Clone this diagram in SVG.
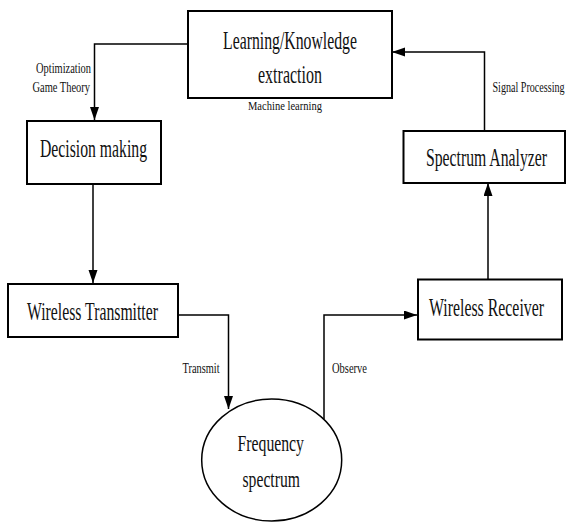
<svg xmlns="http://www.w3.org/2000/svg" width="567" height="523" viewBox="0 0 567 523">
<defs>
<marker id="arr" markerUnits="userSpaceOnUse" markerWidth="14" markerHeight="10" refX="13" refY="4.5" orient="auto">
<path d="M0,0 L13,4.5 L0,9 z" fill="#000"/>
</marker>
<style>
.box{fill:#fff;stroke:#000;stroke-width:2}
.big{font-family:"Liberation Serif",serif;font-size:25px;fill:#111}
.sm{font-family:"Liberation Serif",serif;font-size:14px;fill:#111}
.con{fill:none;stroke:#000;stroke-width:1.5;marker-end:url(#arr)}
</style>
</defs>
<rect width="567" height="523" fill="#fff"/>
<g id="connectors">
<path class="con" d="M188,44 H94.5 V120"/>
<path class="con" d="M93,184 V283"/>
<path class="con" d="M178,315 H228.5 V409"/>
<path class="con" d="M324,419 V315 H417"/>
<path class="con" d="M488,279 V183"/>
<path class="con" d="M484.5,131 V52 H392"/>
<text class="sm" transform="translate(36,73) scale(0.7,1)" textLength="78.6" lengthAdjust="spacingAndGlyphs" style="font-size:15px">Optimization</text>
<text class="sm" transform="translate(32.5,92) scale(0.7,1)" textLength="82.1" lengthAdjust="spacingAndGlyphs" style="font-size:15px">Game Theory</text>
<text class="sm" transform="translate(182.5,373) scale(0.7,1)" textLength="52.9" lengthAdjust="spacingAndGlyphs">Transmit</text>
<text class="sm" transform="translate(332,373) scale(0.7,1)" textLength="50" lengthAdjust="spacingAndGlyphs">Observe</text>
<text class="sm" transform="translate(492.5,92) scale(0.7,1)" textLength="102.9" lengthAdjust="spacingAndGlyphs">Signal Processing</text>
</g>
<g id="learning">
<rect class="box" x="188" y="11" width="204" height="87"/>
<text class="big" transform="translate(223,49) scale(0.7,1)" textLength="191.4" lengthAdjust="spacingAndGlyphs">Learning/Knowledge</text>
<text class="big" transform="translate(258,83) scale(0.7,1)" textLength="91.4" lengthAdjust="spacingAndGlyphs">extraction</text>
<text class="sm" transform="translate(248,110) scale(0.7,1)" textLength="105.7" lengthAdjust="spacingAndGlyphs" style="font-size:13px">Machine learning</text>
</g>
<g id="decision">
<rect class="box" x="27" y="121" width="134" height="63"/>
<text class="big" transform="translate(40,157) scale(0.7,1)" textLength="152.9" lengthAdjust="spacingAndGlyphs">Decision making</text>
</g>
<g id="transmitter">
<rect class="box" x="8" y="284" width="170" height="53"/>
<text class="big" transform="translate(27,320) scale(0.7,1)" textLength="187.1" lengthAdjust="spacingAndGlyphs">Wireless Transmitter</text>
</g>
<g id="spectrum">
<ellipse cx="271.7" cy="460" rx="70" ry="61" fill="#fff" stroke="#000" stroke-width="1.5"/>
<text class="big" transform="translate(237.5,451) scale(0.7,1)" textLength="95" lengthAdjust="spacingAndGlyphs" style="font-size:24px">Frequency</text>
<text class="big" transform="translate(242.5,487) scale(0.7,1)" textLength="82.1" lengthAdjust="spacingAndGlyphs" style="font-size:24px">spectrum</text>
</g>
<g id="receiver">
<rect class="box" x="418" y="279.5" width="144" height="60"/>
<text class="big" transform="translate(429,316) scale(0.7,1)" textLength="164.3" lengthAdjust="spacingAndGlyphs">Wireless Receiver</text>
</g>
<g id="analyzer">
<rect class="box" x="403.5" y="131" width="161.5" height="52"/>
<text class="big" transform="translate(426,166) scale(0.7,1)" textLength="172.9" lengthAdjust="spacingAndGlyphs">Spectrum Analyzer</text>
</g>
</svg>
